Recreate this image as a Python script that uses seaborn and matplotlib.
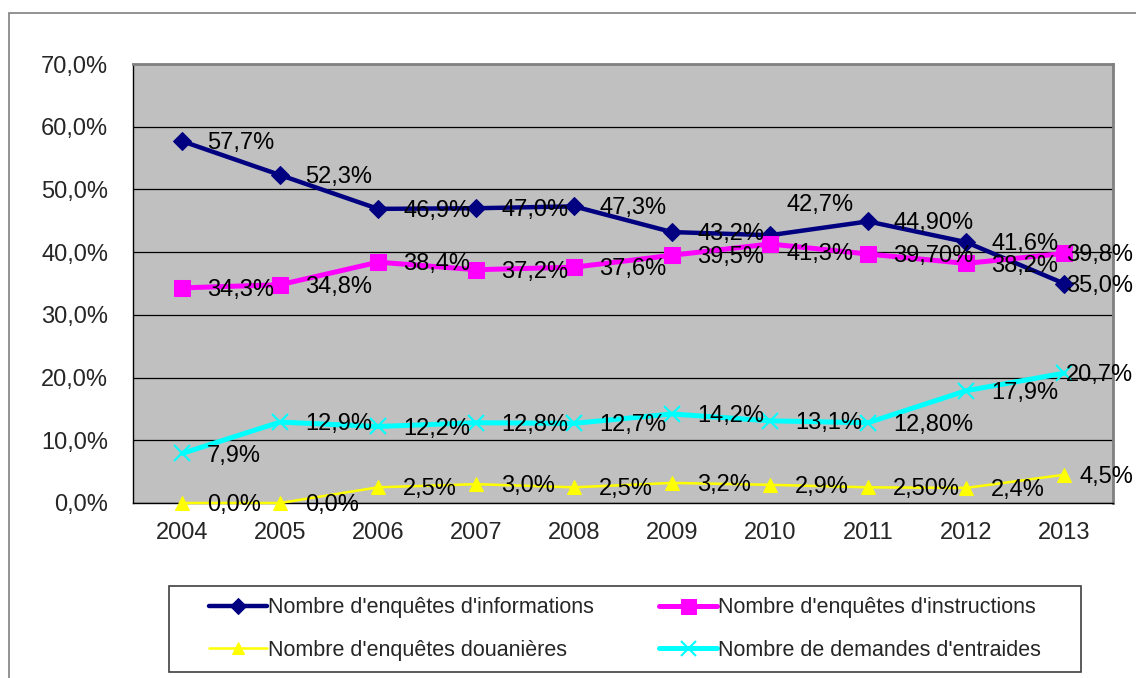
import numpy as np
import pandas as pd
import matplotlib
matplotlib.use("Agg")
import matplotlib.pyplot as plt
import seaborn as sns
from matplotlib.patches import Rectangle
from matplotlib.ticker import FuncFormatter, FixedLocator

# Données
annees = ["2004", "2005", "2006", "2007", "2008", "2009", "2010", "2011", "2012", "2013"]
informations = [57.7, 52.3, 46.9, 47.0, 47.3, 43.2, 42.7, 44.9, 41.6, 35.0]
instructions = [34.3, 34.8, 38.4, 37.2, 37.6, 39.5, 41.3, 39.7, 38.2, 39.8]
douanieres = [0.0, 0.0, 2.5, 3.0, 2.5, 3.2, 2.9, 2.5, 2.4, 4.5]
entraides = [7.9, 12.9, 12.2, 12.8, 12.7, 14.2, 13.1, 12.8, 17.9, 20.7]

lib_informations = ["57,7%", "52,3%", "46,9%", "47,0%", "47,3%", "43,2%", "42,7%", "44,90%", "41,6%", "35,0%"]
lib_instructions = ["34,3%", "34,8%", "38,4%", "37,2%", "37,6%", "39,5%", "41,3%", "39,70%", "38,2%", "39,8%"]
lib_douanieres = ["0,0%", "0,0%", "2,5%", "3,0%", "2,5%", "3,2%", "2,9%", "2,50%", "2,4%", "4,5%"]
lib_entraides = ["7,9%", "12,9%", "12,2%", "12,8%", "12,7%", "14,2%", "13,1%", "12,80%", "17,9%", "20,7%"]

noms = ["Nombre d'enquêtes d'informations", "Nombre d'enquêtes d'instructions",
        "Nombre d'enquêtes douanières", "Nombre de demandes d'entraides"]

sns.set_style("white")
plt.rcParams['font.family'] = ['Liberation Sans', 'DejaVu Sans']

fig = plt.figure(figsize=(11.36, 6.78), dpi=100)
W, H = 1136, 678
ax = fig.add_axes([133 / W, 1 - 503 / H, (1113 - 133) / W, (503 - 64) / H])
ax.set_facecolor("#C0C0C0")

series = [
    (informations, lib_informations, noms[0], dict(color="#000080", marker="D", markersize=9, linewidth=3.2)),
    (instructions, lib_instructions, noms[1], dict(color="#FF00FF", marker="s", markersize=12, linewidth=3.6)),
    (douanieres, lib_douanieres, noms[2], dict(color="#FFFF00", marker="^", markersize=10, linewidth=1.8)),
    (entraides, lib_entraides, noms[3], dict(color="#00FFFF", marker="x", markersize=12,
                                              markeredgewidth=1.5, linewidth=3.6)),
]

x = np.arange(len(annees))
lignes = {}
for i, (vals, libs, nom, style) in enumerate(series):
    df = pd.DataFrame({"x": x, "y": vals})
    sns.lineplot(data=df, x="x", y="y", ax=ax, label=nom, zorder=3 + i, legend=False,
                 markeredgecolor=style["color"], clip_on=False, **style)
    lignes[nom] = ax.lines[-1]

# étiquettes de données
dernier = len(annees) - 1
for vals, libs, nom, style in series:
    for j, (v, t) in enumerate(zip(vals, libs)):
        dx, dy, ha = 18, -1.5, "left"
        if nom == noms[0] and j == 6:
            dx, dy = 12, 22
        elif nom == noms[1] and j == 6:
            dx, dy = 12, -7
        if j == dernier:
            # collé au bord droit de l'image
            dx, ha = 50, "right"
        ax.annotate(t, (j, v), xytext=(dx, dy), textcoords="offset points",
                    ha=ha, va="center", fontsize=17, color="black", zorder=10,
                    annotation_clip=False)

ax.set_xlim(-0.5, len(annees) - 0.5)
ax.set_ylim(0, 70)
ax.set_yticks(np.arange(0, 71, 10))
ax.yaxis.set_major_formatter(FuncFormatter(lambda v, p: f"{v:.1f}%".replace(".", ",")))
ax.set_xticks(x)
ax.set_xticklabels(annees)
ax.xaxis.set_minor_locator(FixedLocator(np.arange(-0.5, len(annees), 1.0)))
ax.tick_params(axis="x", which="major", length=0, pad=14, labelsize=17)
ax.tick_params(axis="x", which="minor", length=6, width=1, color="black")
ax.tick_params(axis="y", which="major", length=6, width=1, color="black", pad=12, labelsize=17)
ax.grid(axis="y", color="black", linewidth=0.9)
ax.set_axisbelow(True)
ax.set_xlabel("")
ax.set_ylabel("")

for cote in ["top", "right"]:
    ax.spines[cote].set_color("#808080")
    ax.spines[cote].set_linewidth(2)
for cote in ["left", "bottom"]:
    ax.spines[cote].set_color("black")
    ax.spines[cote].set_linewidth(1)

# cadre extérieur
fig.patches.append(Rectangle((8.5 / W, -0.05), 1.1, 1 - 12.5 / H + 0.05, transform=fig.transFigure,
                             fill=False, edgecolor="#808080", linewidth=1.2, zorder=0))

# légende
x0, x1, y0, y1 = 169, 1081, 586, 672
fig.patches.append(Rectangle((x0 / W, 1 - y1 / H), (x1 - x0) / W, (y1 - y0) / H, transform=fig.transFigure,
                             fill=False, edgecolor="#404040", linewidth=1.2))
ordre = [noms[0], noms[2], noms[1], noms[3]]
leg = fig.legend([lignes[n] for n in ordre], ordre, ncol=2, frameon=False, loc="center",
                 bbox_to_anchor=((x0 + x1) / 2 / W, 1 - (y0 + y1) / 2 / H),
                 fontsize=15.5, handlelength=2.7, handletextpad=0.05, columnspacing=3.0,
                 labelspacing=1.0, markerscale=0.9)

fig.savefig("out.png", dpi=100)
